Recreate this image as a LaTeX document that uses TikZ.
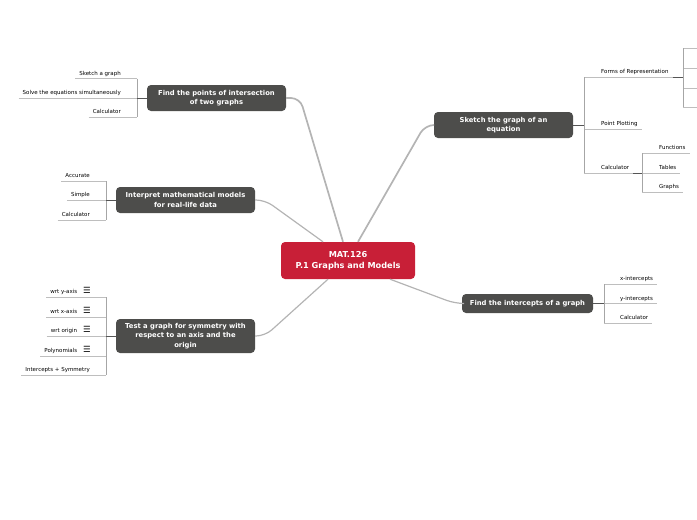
\documentclass[tikz,border=0pt]{standalone}
\usepackage{fontspec}
\setmainfont{DejaVu Sans}
\usetikzlibrary{positioning, calc}
\usepackage{xcolor}
\definecolor{rootred}{HTML}{C81F37}
\definecolor{topicgrey}{HTML}{4D4D4B}
\definecolor{branchgrey}{HTML}{B4B4B4}
\definecolor{twiggrey}{HTML}{BEBEBE}
\definecolor{forkgrey}{HTML}{A6A6A6}
\definecolor{stubgrey}{HTML}{555555}
\newcommand{\menuicon}{\hspace{6pt}{\fontsize{8.5}{8.5}\selectfont ☰}}
\tikzset{
  rootbox/.style={rectangle, fill=rootred, rounded corners=4pt,
                  minimum width=134pt, minimum height=37pt, align=center,
                  text=white, font=\fontsize{8.2}{11}\selectfont\bfseries},
  topicbox/.style={rectangle, fill=topicgrey, rounded corners=4pt,
                   minimum width=139pt, minimum height=26pt, align=center,
                   text=white, font=\fontsize{6.8}{9.2}\selectfont\bfseries},
  leafL/.style={anchor=south east, inner xsep=4pt, inner ysep=1.8pt,
                text height=4.2pt, text depth=1.2pt, font=\fontsize{5.5}{6}\selectfont},
  leafR/.style={leafL, anchor=south west},
  branch/.style={draw=branchgrey, line width=1.2pt, rounded corners=9pt},
  bigbranch/.style={branch, line width=1.7pt},
  twig/.style={draw=twiggrey, line width=0.7pt},
  fork/.style={draw=forkgrey, line width=0.7pt},
  stub/.style={draw=stubgrey, line width=0.9pt},
}

\begin{document}
\begin{tikzpicture}[x=1pt, y=-1pt]
  \useasboundingbox (0,0) rectangle (697,520);

  % central topic
  \node[rootbox] (root) at (348,260.5) {MAT.126\\P.1 Graphs and Models};

  % main topics
  \node[topicbox] (inter)  at (216.5,98)  {Find the points of intersection\\of two graphs};
  \node[topicbox] (model)  at (185.5,200) {Interpret mathematical models\\for real-life data};
  \node[topicbox, minimum height=34pt]
                  (symm)   at (185.5,336) {Test a graph for symmetry with\\respect to an axis and the\\origin};
  \node[topicbox] (sketch) at (503.5,125) {Sketch the graph of an\\equation};
  \node[topicbox, minimum width=131pt, minimum height=19pt]
                  (icpt)   at (527.5,303.5) {Find the intercepts of a graph};

  % branches from the centre
  \draw[bigbranch] ([xshift=-5pt]root.north)  -- (300,98)    -- (inter.east);
  \draw[bigbranch] ([xshift=10pt]root.north)  -- (425,125)   -- (sketch.west);
  \draw[branch]    ([xshift=-25pt]root.north) -- (265,200)   -- (model.east);
  \draw[branch]    ([xshift=-20pt]root.south) -- (265,336)   -- (symm.east);
  \draw[branch]    ([xshift=42pt]root.south)  -- (455,303.5) -- (icpt.west);

  % --- intersection ---
  \coordinate (interfork) at (137,98);
  \node[leafL] (inter1) at (125,78.5) {Sketch a graph};
  \node[leafL] (inter2) at (125,98)   {Solve the equations simultaneously};
  \node[leafL] (inter3) at (125,117)  {Calculator};
  \draw[twig] (inter1.south west) -- (inter1.south -| interfork);
  \draw[twig] (inter2.south west) -- (inter2.south -| interfork);
  \draw[twig] (inter3.south west) -- (inter3.south -| interfork);
  \draw[fork] (inter1.south -| interfork) -- (inter3.south -| interfork);
  \draw[stub] (inter.west) -- (interfork);

  % --- models ---
  \coordinate (modelfork) at (106,200);
  \node[leafL] (model1) at (94,181) {Accurate};
  \node[leafL] (model2) at (94,200) {Simple};
  \node[leafL] (model3) at (94,220) {Calculator};
  \draw[twig] (model1.south west) -- (model1.south -| modelfork);
  \draw[twig] (model2.south west) -- (model2.south -| modelfork);
  \draw[twig] (model3.south west) -- (model3.south -| modelfork);
  \draw[fork] (model1.south -| modelfork) -- (model3.south -| modelfork);
  \draw[stub] (model.west) -- (modelfork);

  % --- symmetry ---
  \coordinate (symmfork) at (106,336);
  \node[leafL] (symm1) at (95,297) {wrt y-axis\menuicon};
  \node[leafL] (symm2) at (95,317) {wrt x-axis\menuicon};
  \node[leafL] (symm3) at (95,336) {wrt origin\menuicon};
  \node[leafL] (symm4) at (95,356) {Polynomials\menuicon};
  \node[leafL] (symm5) at (94,375) {Intercepts + Symmetry};
  \foreach \k in {1,...,5}
    \draw[twig] (symm\k.south west) -- (symm\k.south -| symmfork);
  \draw[fork] (symm1.south -| symmfork) -- (symm5.south -| symmfork);
  \draw[stub] (symm.west) -- (symmfork);

  % --- sketch ---
  \coordinate (sketchfork) at (584,125);
  \node[leafR] (sketch1) at (597,77)  {Forms of Representation};
  \node[leafR] (sketch2) at (597,129) {Point Plotting};
  \node[leafR] (sketch3) at (597,173) {Calculator};
  \foreach \k in {1,2,3}
    \draw[twig] (sketch\k.south -| sketchfork) -- (sketch\k.south east);
  \draw[fork] (sketch1.south -| sketchfork) -- (sketch3.south -| sketchfork);
  \draw[stub] (sketch.east) -- (sketchfork);

  % forms of representation (cut at the page edge)
  \coordinate (formsfork) at (683,77);
  \draw[stub] (sketch1.south east) -- (formsfork);
  \foreach \y in {48,68,88,107}
    \draw[twig] (formsfork |- 0,\y) -- (697,\y);
  \draw[fork] (formsfork |- 0,48) -- (formsfork |- 0,107);

  % calculator
  \coordinate (calcfork) at (642,173);
  \node[leafR] (calc1) at (655,153) {Functions};
  \node[leafR] (calc2) at (655,173) {Tables};
  \node[leafR] (calc3) at (655,192) {Graphs};
  \foreach \k in {1,2,3}
    \draw[twig] (calc\k.south -| calcfork) -- (calc\k.south east);
  \draw[fork] (calc1.south -| calcfork) -- (calc3.south -| calcfork);
  \draw[stub] (sketch3.south east) -- (calcfork);

  % --- intercepts ---
  \coordinate (icptfork) at (604,303.5);
  \node[leafR] (icpt1) at (616,284) {x-intercepts};
  \node[leafR] (icpt2) at (616,303.5) {y-intercepts};
  \node[leafR] (icpt3) at (616,323) {Calculator};
  \foreach \k in {1,2,3}
    \draw[twig] (icpt\k.south -| icptfork) -- (icpt\k.south east);
  \draw[fork] (icpt1.south -| icptfork) -- (icpt3.south -| icptfork);
  \draw[stub] (icpt.east) -- (icptfork);

\end{tikzpicture}
\end{document}
